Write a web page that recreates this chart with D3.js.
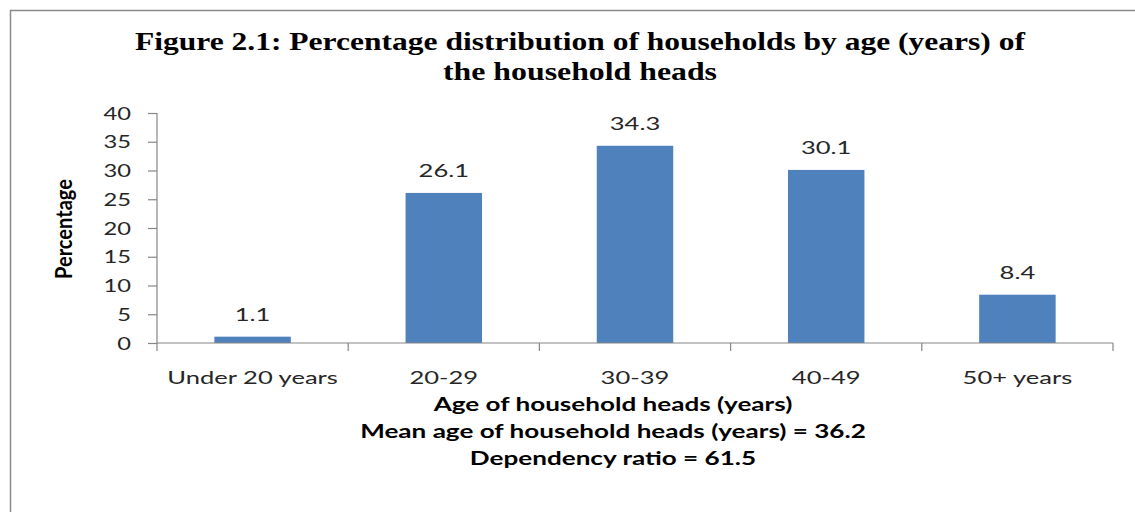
<!DOCTYPE html>
<html>
<head>
<meta charset="utf-8">
<script src="https://cdn.jsdelivr.net/npm/d3@7"></script>
<style>
  html, body { margin: 0; padding: 0; background: #fff; }
  svg { display: block; }
</style>
</head>
<body>
<svg id="chart" width="1135" height="512"></svg>
<script>
// Household heads by age group
const categories = ["Under 20 years", "20-29", "30-39", "40-49", "50+ years"];
const percentages = [1.1, 26.1, 34.3, 30.1, 8.4];
const yTicks = [0, 5, 10, 15, 20, 25, 30, 35, 40];
const titleLines = [
  "Figure 2.1: Percentage distribution of households by age (years) of",
  "the household heads"
];
const footerLines = [
  "Age of household heads (years)",
  "Mean age of household heads (years) = 36.2",
  "Dependency ratio = 61.5"
];

const W = 1135, H = 512;
const sansFont = "Lato, 'Open Sans', sans-serif";
const serifFont = "'Liberation Serif', 'Times New Roman', serif";
const textColor = "#262626";
const axisColor = "#868686";
const barColor = "#4F81BD";

const svg = d3.select("#chart");

// frame
svg.append("path")
  .attr("d", `M10.5,${H} V10.5 H${W}`)
  .attr("fill", "none")
  .attr("stroke", "#8a8a8a")
  .attr("stroke-width", 1.5);

const plot = { left: 157, right: 1113, top: 113, bottom: 343 };

const x = d3.scaleBand()
  .domain(categories)
  .range([plot.left, plot.right])
  .paddingInner(0.6)
  .paddingOuter(0.3);

const y = d3.scaleLinear()
  .domain([0, 40])
  .range([plot.bottom, plot.top]);

// helper: horizontally widened text anchored at (px, py)
function label(parent, px, py, str, opts) {
  const g = parent.append("g")
    .attr("transform", `translate(${px},${py}) scale(${opts.sx || 1},1)` + (opts.rotate ? ` rotate(${opts.rotate})` : ""));
  const t = g.append("text")
    .attr("text-anchor", opts.anchor || "middle")
    .attr("font-family", opts.family || sansFont)
    .attr("font-size", opts.size || 18)
    .attr("font-weight", opts.weight || "normal")
    .attr("fill", opts.fill || textColor)
    .text(str);
  if (opts.length) t.attr("textLength", opts.length).attr("lengthAdjust", "spacingAndGlyphs");
  return t;
}

// title
const titleBaselines = [50, 80];
const titleLengths = [890, 274];
titleLines.forEach((s, i) => {
  label(svg, 580, titleBaselines[i], s, {
    family: serifFont, size: 25, weight: "bold", fill: "#000",
    length: titleLengths[i]
  });
});

// bars
svg.append("g").selectAll("rect")
  .data(percentages)
  .join("rect")
  .attr("x", (d, i) => x(categories[i]))
  .attr("y", d => y(d))
  .attr("width", x.bandwidth())
  .attr("height", d => y(0) - y(d))
  .attr("fill", barColor);

// value labels
const valueLayer = svg.append("g");
percentages.forEach((d, i) => {
  label(valueLayer, x(categories[i]) + x.bandwidth() / 2, y(d) - 16, d.toFixed(1), { size: 18, sx: 1.42 });
});

// y axis
const yAxis = d3.axisLeft(y).tickValues(yTicks).tickSize(9).tickFormat("");
const yg = svg.append("g").attr("transform", `translate(${plot.left},0)`).call(yAxis);
yg.selectAll("path, line").attr("stroke", axisColor).attr("stroke-width", 1.2);
yg.select(".domain").attr("d", `M0,${plot.top}V${plot.bottom}`);
const yLabels = svg.append("g");
yTicks.forEach(v => {
  label(yLabels, 131, y(v) + 6.5, String(v), { anchor: "end", size: 18, sx: 1.32 });
});

// x axis: ticks at category boundaries
const step = x.step();
const boundaries = d3.range(categories.length + 1).map(i => plot.left + i * step);
const xg = svg.append("g");
xg.append("line")
  .attr("x1", plot.left).attr("x2", plot.right)
  .attr("y1", plot.bottom).attr("y2", plot.bottom)
  .attr("stroke", axisColor).attr("stroke-width", 1.2);
xg.selectAll("line.tick")
  .data(boundaries)
  .join("line")
  .attr("class", "tick")
  .attr("x1", d => d).attr("x2", d => d)
  .attr("y1", plot.bottom).attr("y2", plot.bottom + 8)
  .attr("stroke", axisColor).attr("stroke-width", 1.2);
categories.forEach(c => {
  label(xg, x(c) + x.bandwidth() / 2, 384, c, { size: 18, sx: 1.42 });
});

// y axis title
label(svg, 72, 229, "Percentage", { size: 18, weight: "bold", rotate: -90, fill: "#000", sx: 1.25, length: 100 });

// footer lines
const footerBaselines = [411, 438, 465];
footerLines.forEach((s, i) => {
  label(svg, 613, footerBaselines[i], s, { size: 18, weight: "bold", fill: "#000", sx: 1.45 });
});
</script>
</body>
</html>
